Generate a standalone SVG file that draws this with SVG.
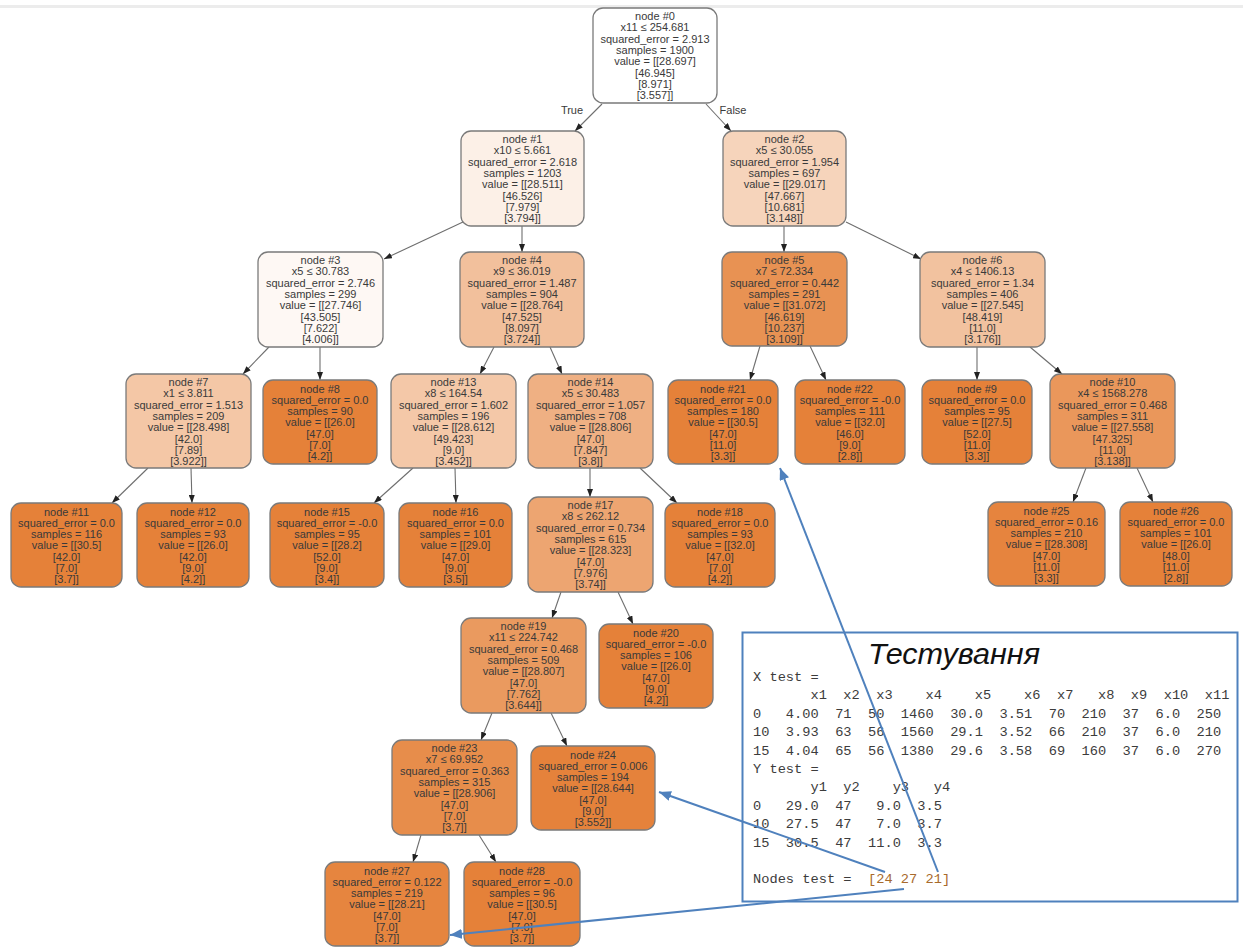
<svg xmlns="http://www.w3.org/2000/svg" width="1243" height="948" viewBox="0 0 1243 948">
<style>
.n rect{stroke:#7a7a7a;stroke-width:1.3}
.n text,.lbl{font-family:"Liberation Sans",Arial,Helvetica,sans-serif;font-size:11px;fill:#3a3a3a;text-anchor:middle}
.e line{stroke:#6e6e6e;stroke-width:1.1;marker-end:url(#ah)}
.b line{stroke:#4f81bd;stroke-width:2;marker-end:url(#bh)}
.mono{font-family:"Liberation Mono","DejaVu Sans Mono",monospace;font-size:13.7px;fill:#3c3c3c;white-space:pre}
</style>
<defs>
<marker id="ah" viewBox="0 0 8 6" refX="8" refY="3" markerWidth="8" markerHeight="6" markerUnits="userSpaceOnUse" orient="auto"><path d="M0,0 L8,3 L0,6 z" fill="#222"/></marker>
<marker id="bh" viewBox="0 0 12 10" refX="12" refY="5" markerWidth="12" markerHeight="10" markerUnits="userSpaceOnUse" orient="auto"><path d="M0,0 L12,5 L0,10 z" fill="#4f81bd"/></marker>
</defs>
<rect width="1243" height="948" fill="#fff"/>
<rect x="0" y="5" width="1243" height="3" fill="#ececec"/>

<g id="edges" class="e">
<line x1="602" y1="104" x2="575" y2="131"/>
<line x1="706" y1="104" x2="731" y2="131"/>
<line x1="463" y1="222" x2="384" y2="259"/>
<line x1="522" y1="226" x2="522" y2="252"/>
<line x1="784" y1="226" x2="784" y2="252"/>
<line x1="846" y1="222" x2="921" y2="259"/>
<line x1="269" y1="347" x2="243" y2="374"/>
<line x1="320" y1="347" x2="320" y2="380"/>
<line x1="494" y1="347" x2="480" y2="374"/>
<line x1="550" y1="347" x2="562" y2="374"/>
<line x1="760" y1="346" x2="750" y2="380"/>
<line x1="810" y1="346" x2="826" y2="380"/>
<line x1="977" y1="347" x2="977" y2="380"/>
<line x1="1030" y1="347" x2="1062" y2="374"/>
<line x1="148" y1="468" x2="112" y2="503"/>
<line x1="191" y1="468" x2="192" y2="503"/>
<line x1="413" y1="468" x2="374" y2="503"/>
<line x1="455" y1="468" x2="456" y2="503"/>
<line x1="590" y1="468" x2="590" y2="497"/>
<line x1="640" y1="468" x2="677" y2="503"/>
<line x1="1086" y1="468" x2="1073" y2="502"/>
<line x1="1137" y1="468" x2="1153" y2="502"/>
<line x1="561" y1="592" x2="552" y2="618"/>
<line x1="618" y1="592" x2="633" y2="624"/>
<line x1="492" y1="713" x2="481" y2="740"/>
<line x1="551" y1="713" x2="567" y2="746"/>
<line x1="421" y1="835" x2="413" y2="862"/>
<line x1="479" y1="835" x2="496" y2="862"/>
<text class="lbl" x="572" y="114">True</text>
<text class="lbl" x="733" y="114">False</text>
</g>

<g id="node0" class="n"><rect x="593" y="8" width="124" height="95" rx="10" fill="#ffffff"/>
<text x="655" y="20"><tspan x="655">node #0</tspan><tspan x="655" dy="11.3">x11 ≤ 254.681</tspan><tspan x="655" dy="11.3">squared_error = 2.913</tspan><tspan x="655" dy="11.3">samples = 1900</tspan><tspan x="655" dy="11.3">value = [[28.697]</tspan><tspan x="655" dy="11.3">[46.945]</tspan><tspan x="655" dy="11.3">[8.971]</tspan><tspan x="655" dy="11.3">[3.557]]</tspan></text></g>

<g id="node1" class="n"><rect x="461" y="131" width="123" height="95" rx="10" fill="#fcf0e7"/>
<text x="522.5" y="143"><tspan x="522.5">node #1</tspan><tspan x="522.5" dy="11.3">x10 ≤ 5.661</tspan><tspan x="522.5" dy="11.3">squared_error = 2.618</tspan><tspan x="522.5" dy="11.3">samples = 1203</tspan><tspan x="522.5" dy="11.3">value = [[28.511]</tspan><tspan x="522.5" dy="11.3">[46.526]</tspan><tspan x="522.5" dy="11.3">[7.979]</tspan><tspan x="522.5" dy="11.3">[3.794]]</tspan></text></g>

<g id="node2" class="n"><rect x="723" y="131" width="123" height="95" rx="10" fill="#f6d4bb"/>
<text x="784.5" y="143"><tspan x="784.5">node #2</tspan><tspan x="784.5" dy="11.3">x5 ≤ 30.055</tspan><tspan x="784.5" dy="11.3">squared_error = 1.954</tspan><tspan x="784.5" dy="11.3">samples = 697</tspan><tspan x="784.5" dy="11.3">value = [[29.017]</tspan><tspan x="784.5" dy="11.3">[47.667]</tspan><tspan x="784.5" dy="11.3">[10.681]</tspan><tspan x="784.5" dy="11.3">[3.148]]</tspan></text></g>

<g id="node3" class="n"><rect x="258" y="252" width="125" height="95" rx="10" fill="#fef8f4"/>
<text x="320.5" y="264"><tspan x="320.5">node #3</tspan><tspan x="320.5" dy="11.3">x5 ≤ 30.783</tspan><tspan x="320.5" dy="11.3">squared_error = 2.746</tspan><tspan x="320.5" dy="11.3">samples = 299</tspan><tspan x="320.5" dy="11.3">value = [[27.746]</tspan><tspan x="320.5" dy="11.3">[43.505]</tspan><tspan x="320.5" dy="11.3">[7.622]</tspan><tspan x="320.5" dy="11.3">[4.006]]</tspan></text></g>

<g id="node4" class="n"><rect x="460" y="252" width="124" height="95" rx="10" fill="#f2c09c"/>
<text x="522" y="264"><tspan x="522">node #4</tspan><tspan x="522" dy="11.3">x9 ≤ 36.019</tspan><tspan x="522" dy="11.3">squared_error = 1.487</tspan><tspan x="522" dy="11.3">samples = 904</tspan><tspan x="522" dy="11.3">value = [[28.764]</tspan><tspan x="522" dy="11.3">[47.525]</tspan><tspan x="522" dy="11.3">[8.097]</tspan><tspan x="522" dy="11.3">[3.724]]</tspan></text></g>

<g id="node5" class="n"><rect x="722" y="252" width="125" height="94" rx="10" fill="#e89253"/>
<text x="784.5" y="264"><tspan x="784.5">node #5</tspan><tspan x="784.5" dy="11.3">x7 ≤ 72.334</tspan><tspan x="784.5" dy="11.3">squared_error = 0.442</tspan><tspan x="784.5" dy="11.3">samples = 291</tspan><tspan x="784.5" dy="11.3">value = [[31.072]</tspan><tspan x="784.5" dy="11.3">[46.619]</tspan><tspan x="784.5" dy="11.3">[10.237]</tspan><tspan x="784.5" dy="11.3">[3.109]]</tspan></text></g>

<g id="node6" class="n"><rect x="920" y="252" width="125" height="95" rx="10" fill="#f2c29f"/>
<text x="982.5" y="264"><tspan x="982.5">node #6</tspan><tspan x="982.5" dy="11.3">x4 ≤ 1406.13</tspan><tspan x="982.5" dy="11.3">squared_error = 1.34</tspan><tspan x="982.5" dy="11.3">samples = 406</tspan><tspan x="982.5" dy="11.3">value = [[27.545]</tspan><tspan x="982.5" dy="11.3">[48.419]</tspan><tspan x="982.5" dy="11.3">[11.0]</tspan><tspan x="982.5" dy="11.3">[3.176]]</tspan></text></g>

<g id="node7" class="n"><rect x="126" y="374" width="125" height="94" rx="10" fill="#f4c7a6"/>
<text x="188.5" y="386"><tspan x="188.5">node #7</tspan><tspan x="188.5" dy="11.3">x1 ≤ 3.811</tspan><tspan x="188.5" dy="11.3">squared_error = 1.513</tspan><tspan x="188.5" dy="11.3">samples = 209</tspan><tspan x="188.5" dy="11.3">value = [[28.498]</tspan><tspan x="188.5" dy="11.3">[42.0]</tspan><tspan x="188.5" dy="11.3">[7.89]</tspan><tspan x="188.5" dy="11.3">[3.922]]</tspan></text></g>

<g id="node8" class="n"><rect x="263" y="380" width="114" height="84" rx="10" fill="#e58139"/>
<text x="320" y="392.5"><tspan x="320">node #8</tspan><tspan x="320" dy="11.3">squared_error = 0.0</tspan><tspan x="320" dy="11.3">samples = 90</tspan><tspan x="320" dy="11.3">value = [[26.0]</tspan><tspan x="320" dy="11.3">[47.0]</tspan><tspan x="320" dy="11.3">[7.0]</tspan><tspan x="320" dy="11.3">[4.2]]</tspan></text></g>

<g id="node13" class="n"><rect x="391" y="374" width="125" height="94" rx="10" fill="#f4c8a8"/>
<text x="453.5" y="386"><tspan x="453.5">node #13</tspan><tspan x="453.5" dy="11.3">x8 ≤ 164.54</tspan><tspan x="453.5" dy="11.3">squared_error = 1.602</tspan><tspan x="453.5" dy="11.3">samples = 196</tspan><tspan x="453.5" dy="11.3">value = [[28.612]</tspan><tspan x="453.5" dy="11.3">[49.423]</tspan><tspan x="453.5" dy="11.3">[9.0]</tspan><tspan x="453.5" dy="11.3">[3.452]]</tspan></text></g>

<g id="node14" class="n"><rect x="528" y="374" width="125" height="94" rx="10" fill="#efb083"/>
<text x="590.5" y="386"><tspan x="590.5">node #14</tspan><tspan x="590.5" dy="11.3">x5 ≤ 30.483</tspan><tspan x="590.5" dy="11.3">squared_error = 1.057</tspan><tspan x="590.5" dy="11.3">samples = 708</tspan><tspan x="590.5" dy="11.3">value = [[28.806]</tspan><tspan x="590.5" dy="11.3">[47.0]</tspan><tspan x="590.5" dy="11.3">[7.847]</tspan><tspan x="590.5" dy="11.3">[3.8]]</tspan></text></g>

<g id="node21" class="n"><rect x="668" y="380" width="110" height="84" rx="10" fill="#e58139"/>
<text x="723" y="392.5"><tspan x="723">node #21</tspan><tspan x="723" dy="11.3">squared_error = 0.0</tspan><tspan x="723" dy="11.3">samples = 180</tspan><tspan x="723" dy="11.3">value = [[30.5]</tspan><tspan x="723" dy="11.3">[47.0]</tspan><tspan x="723" dy="11.3">[11.0]</tspan><tspan x="723" dy="11.3">[3.3]]</tspan></text></g>

<g id="node22" class="n"><rect x="795" y="380" width="110" height="84" rx="10" fill="#e58139"/>
<text x="850" y="392.5"><tspan x="850">node #22</tspan><tspan x="850" dy="11.3">squared_error = -0.0</tspan><tspan x="850" dy="11.3">samples = 111</tspan><tspan x="850" dy="11.3">value = [[32.0]</tspan><tspan x="850" dy="11.3">[46.0]</tspan><tspan x="850" dy="11.3">[9.0]</tspan><tspan x="850" dy="11.3">[2.8]]</tspan></text></g>

<g id="node9" class="n"><rect x="922" y="380" width="110" height="84" rx="10" fill="#e58139"/>
<text x="977" y="392.5"><tspan x="977">node #9</tspan><tspan x="977" dy="11.3">squared_error = 0.0</tspan><tspan x="977" dy="11.3">samples = 95</tspan><tspan x="977" dy="11.3">value = [[27.5]</tspan><tspan x="977" dy="11.3">[52.0]</tspan><tspan x="977" dy="11.3">[11.0]</tspan><tspan x="977" dy="11.3">[3.3]]</tspan></text></g>

<g id="node10" class="n"><rect x="1050" y="374" width="125" height="94" rx="10" fill="#ea975b"/>
<text x="1112.5" y="386"><tspan x="1112.5">node #10</tspan><tspan x="1112.5" dy="11.3">x4 ≤ 1568.278</tspan><tspan x="1112.5" dy="11.3">squared_error = 0.468</tspan><tspan x="1112.5" dy="11.3">samples = 311</tspan><tspan x="1112.5" dy="11.3">value = [[27.558]</tspan><tspan x="1112.5" dy="11.3">[47.325]</tspan><tspan x="1112.5" dy="11.3">[11.0]</tspan><tspan x="1112.5" dy="11.3">[3.138]]</tspan></text></g>

<g id="node11" class="n"><rect x="11" y="503" width="111" height="84" rx="10" fill="#e58139"/>
<text x="66.5" y="515.5"><tspan x="66.5">node #11</tspan><tspan x="66.5" dy="11.3">squared_error = 0.0</tspan><tspan x="66.5" dy="11.3">samples = 116</tspan><tspan x="66.5" dy="11.3">value = [[30.5]</tspan><tspan x="66.5" dy="11.3">[42.0]</tspan><tspan x="66.5" dy="11.3">[7.0]</tspan><tspan x="66.5" dy="11.3">[3.7]]</tspan></text></g>

<g id="node12" class="n"><rect x="137" y="503" width="112" height="84" rx="10" fill="#e58139"/>
<text x="193" y="515.5"><tspan x="193">node #12</tspan><tspan x="193" dy="11.3">squared_error = 0.0</tspan><tspan x="193" dy="11.3">samples = 93</tspan><tspan x="193" dy="11.3">value = [[26.0]</tspan><tspan x="193" dy="11.3">[42.0]</tspan><tspan x="193" dy="11.3">[9.0]</tspan><tspan x="193" dy="11.3">[4.2]]</tspan></text></g>

<g id="node15" class="n"><rect x="270" y="503" width="114" height="84" rx="10" fill="#e58139"/>
<text x="327" y="515.5"><tspan x="327">node #15</tspan><tspan x="327" dy="11.3">squared_error = -0.0</tspan><tspan x="327" dy="11.3">samples = 95</tspan><tspan x="327" dy="11.3">value = [[28.2]</tspan><tspan x="327" dy="11.3">[52.0]</tspan><tspan x="327" dy="11.3">[9.0]</tspan><tspan x="327" dy="11.3">[3.4]]</tspan></text></g>

<g id="node16" class="n"><rect x="399" y="503" width="113" height="84" rx="10" fill="#e58139"/>
<text x="455.5" y="515.5"><tspan x="455.5">node #16</tspan><tspan x="455.5" dy="11.3">squared_error = 0.0</tspan><tspan x="455.5" dy="11.3">samples = 101</tspan><tspan x="455.5" dy="11.3">value = [[29.0]</tspan><tspan x="455.5" dy="11.3">[47.0]</tspan><tspan x="455.5" dy="11.3">[9.0]</tspan><tspan x="455.5" dy="11.3">[3.5]]</tspan></text></g>

<g id="node17" class="n"><rect x="528" y="497" width="125" height="95" rx="10" fill="#eda571"/>
<text x="590.5" y="509"><tspan x="590.5">node #17</tspan><tspan x="590.5" dy="11.3">x8 ≤ 262.12</tspan><tspan x="590.5" dy="11.3">squared_error = 0.734</tspan><tspan x="590.5" dy="11.3">samples = 615</tspan><tspan x="590.5" dy="11.3">value = [[28.323]</tspan><tspan x="590.5" dy="11.3">[47.0]</tspan><tspan x="590.5" dy="11.3">[7.976]</tspan><tspan x="590.5" dy="11.3">[3.74]]</tspan></text></g>

<g id="node18" class="n"><rect x="665" y="503" width="110" height="84" rx="10" fill="#e58139"/>
<text x="720" y="515.5"><tspan x="720">node #18</tspan><tspan x="720" dy="11.3">squared_error = 0.0</tspan><tspan x="720" dy="11.3">samples = 93</tspan><tspan x="720" dy="11.3">value = [[32.0]</tspan><tspan x="720" dy="11.3">[47.0]</tspan><tspan x="720" dy="11.3">[7.0]</tspan><tspan x="720" dy="11.3">[4.2]]</tspan></text></g>

<g id="node25" class="n"><rect x="988" y="502" width="117" height="84" rx="10" fill="#e6843e"/>
<text x="1046.5" y="514.5"><tspan x="1046.5">node #25</tspan><tspan x="1046.5" dy="11.3">squared_error = 0.16</tspan><tspan x="1046.5" dy="11.3">samples = 210</tspan><tspan x="1046.5" dy="11.3">value = [[28.308]</tspan><tspan x="1046.5" dy="11.3">[47.0]</tspan><tspan x="1046.5" dy="11.3">[11.0]</tspan><tspan x="1046.5" dy="11.3">[3.3]]</tspan></text></g>

<g id="node26" class="n"><rect x="1120" y="502" width="112" height="84" rx="10" fill="#e58139"/>
<text x="1176" y="514.5"><tspan x="1176">node #26</tspan><tspan x="1176" dy="11.3">squared_error = 0.0</tspan><tspan x="1176" dy="11.3">samples = 101</tspan><tspan x="1176" dy="11.3">value = [[26.0]</tspan><tspan x="1176" dy="11.3">[48.0]</tspan><tspan x="1176" dy="11.3">[11.0]</tspan><tspan x="1176" dy="11.3">[2.8]]</tspan></text></g>

<g id="node19" class="n"><rect x="461" y="618" width="125" height="95" rx="10" fill="#ea9a5f"/>
<text x="523.5" y="630"><tspan x="523.5">node #19</tspan><tspan x="523.5" dy="11.3">x11 ≤ 224.742</tspan><tspan x="523.5" dy="11.3">squared_error = 0.468</tspan><tspan x="523.5" dy="11.3">samples = 509</tspan><tspan x="523.5" dy="11.3">value = [[28.807]</tspan><tspan x="523.5" dy="11.3">[47.0]</tspan><tspan x="523.5" dy="11.3">[7.762]</tspan><tspan x="523.5" dy="11.3">[3.644]]</tspan></text></g>

<g id="node20" class="n"><rect x="599" y="624" width="114" height="84" rx="10" fill="#e58139"/>
<text x="656" y="636.5"><tspan x="656">node #20</tspan><tspan x="656" dy="11.3">squared_error = -0.0</tspan><tspan x="656" dy="11.3">samples = 106</tspan><tspan x="656" dy="11.3">value = [[26.0]</tspan><tspan x="656" dy="11.3">[47.0]</tspan><tspan x="656" dy="11.3">[9.0]</tspan><tspan x="656" dy="11.3">[4.2]]</tspan></text></g>

<g id="node23" class="n"><rect x="392" y="740" width="125" height="95" rx="10" fill="#e78d4b"/>
<text x="454.5" y="752"><tspan x="454.5">node #23</tspan><tspan x="454.5" dy="11.3">x7 ≤ 69.952</tspan><tspan x="454.5" dy="11.3">squared_error = 0.363</tspan><tspan x="454.5" dy="11.3">samples = 315</tspan><tspan x="454.5" dy="11.3">value = [[28.906]</tspan><tspan x="454.5" dy="11.3">[47.0]</tspan><tspan x="454.5" dy="11.3">[7.0]</tspan><tspan x="454.5" dy="11.3">[3.7]]</tspan></text></g>

<g id="node24" class="n"><rect x="531" y="746" width="124" height="84" rx="10" fill="#e5823b"/>
<text x="593" y="758.5"><tspan x="593">node #24</tspan><tspan x="593" dy="11.3">squared_error = 0.006</tspan><tspan x="593" dy="11.3">samples = 194</tspan><tspan x="593" dy="11.3">value = [[28.644]</tspan><tspan x="593" dy="11.3">[47.0]</tspan><tspan x="593" dy="11.3">[9.0]</tspan><tspan x="593" dy="11.3">[3.552]]</tspan></text></g>

<g id="node27" class="n"><rect x="325" y="862" width="124" height="84" rx="10" fill="#e6853f"/>
<text x="387" y="874.5"><tspan x="387">node #27</tspan><tspan x="387" dy="11.3">squared_error = 0.122</tspan><tspan x="387" dy="11.3">samples = 219</tspan><tspan x="387" dy="11.3">value = [[28.21]</tspan><tspan x="387" dy="11.3">[47.0]</tspan><tspan x="387" dy="11.3">[7.0]</tspan><tspan x="387" dy="11.3">[3.7]]</tspan></text></g>

<g id="node28" class="n"><rect x="464" y="862" width="116" height="84" rx="10" fill="#e58139"/>
<text x="522" y="874.5"><tspan x="522">node #28</tspan><tspan x="522" dy="11.3">squared_error = -0.0</tspan><tspan x="522" dy="11.3">samples = 96</tspan><tspan x="522" dy="11.3">value = [[30.5]</tspan><tspan x="522" dy="11.3">[47.0]</tspan><tspan x="522" dy="11.3">[7.0]</tspan><tspan x="522" dy="11.3">[3.7]]</tspan></text></g>

<g id="test-box">
<rect x="742.5" y="632.5" width="495" height="269" fill="#fff" stroke="#4f81bd" stroke-width="2"/>
<text x="868" y="664" font-family="'Liberation Sans',Arial,sans-serif" font-style="italic" font-size="30" fill="#111" textLength="172" lengthAdjust="spacingAndGlyphs">Тестування</text>
<text class="mono" xml:space="preserve" x="753" y="681">X test =</text>
<text class="mono" xml:space="preserve" x="753" y="699.4">       x1  x2  x3    x4    x5    x6  x7   x8  x9  x10  x11</text>
<text class="mono" xml:space="preserve" x="753" y="717.8">0   4.00  71  50  1460  30.0  3.51  70  210  37  6.0  250</text>
<text class="mono" xml:space="preserve" x="753" y="736.2">10  3.93  63  56  1560  29.1  3.52  66  210  37  6.0  210</text>
<text class="mono" xml:space="preserve" x="753" y="754.6">15  4.04  65  56  1380  29.6  3.58  69  160  37  6.0  270</text>
<text class="mono" xml:space="preserve" x="753" y="773">Y test =</text>
<text class="mono" xml:space="preserve" x="753" y="791.4">       y1  y2    y3   y4</text>
<text class="mono" xml:space="preserve" x="753" y="809.8">0   29.0  47   9.0  3.5</text>
<text class="mono" xml:space="preserve" x="753" y="828.2">10  27.5  47   7.0  3.7</text>
<text class="mono" xml:space="preserve" x="753" y="846.6">15  30.5  47  11.0  3.3</text>
<text class="mono" xml:space="preserve" x="753" y="883.4">Nodes test =  <tspan fill="#a86a2c">[24 27 21]</tspan></text>
</g>

<g id="annotations" class="b">
<line x1="938" y1="872" x2="780" y2="468"/>
<line x1="885" y1="872" x2="659" y2="792"/>
<line x1="904" y1="889" x2="450" y2="935"/>
</g>
</svg>
